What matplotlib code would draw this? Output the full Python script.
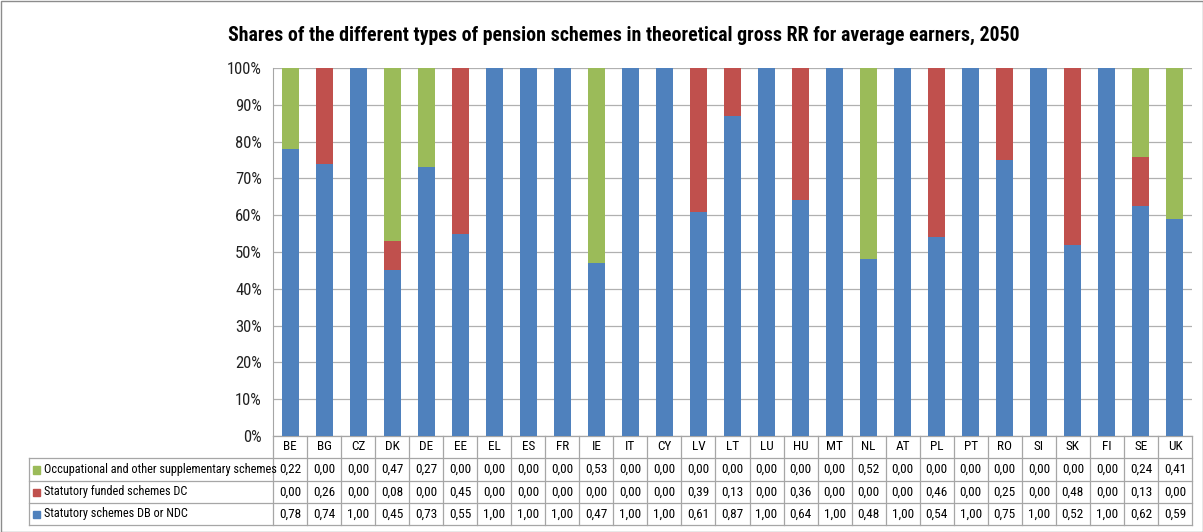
import matplotlib
matplotlib.use("Agg")
import matplotlib.pyplot as plt
from matplotlib.patches import Rectangle
from matplotlib import font_manager
import numpy as np

names = {f.name for f in font_manager.fontManager.ttflist}
cands = ['Roboto Condensed', 'Open Sans Condensed', 'Liberation Sans Narrow', 'Noto Sans Condensed',
         'DejaVu Sans Condensed', 'Roboto', 'Liberation Sans']
fam = [c for c in cands if c in names] + ['DejaVu Sans']
plt.rcParams['font.family'] = fam

countries = ["BE", "BG", "CZ", "DK", "DE", "EE", "EL", "ES", "FR", "IE", "IT", "CY", "LV",
             "LT", "LU", "HU", "MT", "NL", "AT", "PL", "PT", "RO", "SI", "SK", "FI", "SE", "UK"]
statutory_db = [0.78, 0.74, 1.00, 0.45, 0.73, 0.55, 1.00, 1.00, 1.00, 0.47, 1.00, 1.00, 0.61,
                0.87, 1.00, 0.64, 1.00, 0.48, 1.00, 0.54, 1.00, 0.75, 1.00, 0.52, 1.00, 0.62, 0.59]
funded_dc = [0.00, 0.26, 0.00, 0.08, 0.00, 0.45, 0.00, 0.00, 0.00, 0.00, 0.00, 0.00, 0.39,
             0.13, 0.00, 0.36, 0.00, 0.00, 0.00, 0.46, 0.00, 0.25, 0.00, 0.48, 0.00, 0.13, 0.00]
occupational = [0.22, 0.00, 0.00, 0.47, 0.27, 0.00, 0.00, 0.00, 0.00, 0.53, 0.00, 0.00, 0.00,
                0.00, 0.00, 0.00, 0.00, 0.52, 0.00, 0.00, 0.00, 0.00, 0.00, 0.00, 0.00, 0.24, 0.41]
series_names = ["Occupational and other supplementary schemes",
                "Statutory funded schemes DC",
                "Statutory schemes DB or NDC"]
title = "Shares of the different types of pension schemes in theoretical gross RR for average earners, 2050"

c_blue, c_red, c_green = "#4F81BD", "#C0504D", "#9BBB59"

W, H = 1203, 532
fig = plt.figure(figsize=(W / 100, H / 100), dpi=100)
ax_l, ax_r, ax_t, ax_b = 273, 1192, 68, 436
ax = fig.add_axes([ax_l / W, 1 - ax_b / H, (ax_r - ax_l) / W, (ax_b - ax_t) / H])

n = len(countries)
x = np.arange(n)
db = np.array(statutory_db)
dc = np.array(funded_dc)
oc = np.array(occupational)
tot = db + dc + oc
bw = 0.5
ax.bar(x, db / tot, bw, color=c_blue, zorder=3)
ax.bar(x, dc / tot, bw, bottom=db / tot, color=c_red, zorder=3)
ax.bar(x, oc / tot, bw, bottom=(db + dc) / tot, color=c_green, zorder=3)

ax.set_xlim(-0.5, n - 0.5)
ax.set_ylim(0, 1)
ax.set_yticks(np.arange(0, 1.01, 0.1))
ax.set_yticklabels([f"{int(round(v * 100))}%" for v in np.arange(0, 1.01, 0.1)], fontsize=12, color="#222222")
ax.yaxis.grid(True, color="#B0B0B0", linewidth=0.9, zorder=0)
ax.set_xticks([])
ax.tick_params(axis='y', length=0, pad=8)
for s in ["top", "right", "bottom"]:
    ax.spines[s].set_visible(False)
ax.spines["left"].set_color("#A6A6A6")

fig.suptitle(title, x=624 / W, y=1 - 35 / H, va="center", fontsize=14.3, fontweight="bold")

# data table drawn below the axes
tr = ax.get_xaxis_transform()
colw = (ax_r - ax_l) / n
left_x = -0.5 - (ax_l - 29) / colw
row_px = [436, 458, 481, 503, 525]
row_y = [1 - (r - ax_t) / (ax_b - ax_t) for r in row_px]
lc = "#A6A6A6"
lw = 0.9
ax.plot([-0.5, n - 0.5], [row_y[0]] * 2, transform=tr, color=lc, lw=lw, clip_on=False)
for yy in row_y[1:]:
    ax.plot([left_x, n - 0.5], [yy] * 2, transform=tr, color=lc, lw=lw, clip_on=False)
for i in range(n + 1):
    ax.plot([i - 0.5] * 2, [row_y[0], row_y[-1]], transform=tr, color=lc, lw=lw, clip_on=False)
ax.plot([left_x] * 2, [row_y[1], row_y[-1]], transform=tr, color=lc, lw=lw, clip_on=False)

tfs = 9.5
for i, c in enumerate(countries):
    ax.text(i, (row_y[0] + row_y[1]) / 2, c, transform=tr, ha="center", va="center", fontsize=tfs)

rows = [(occupational, c_green), (funded_dc, c_red), (statutory_db, c_blue)]
for r, ((vals, col), name) in enumerate(zip(rows, series_names)):
    ymid = (row_y[r + 1] + row_y[r + 2]) / 2
    for i, v in enumerate(vals):
        ax.text(i, ymid, f"{v:.2f}".replace(".", ","), transform=tr, ha="center", va="center", fontsize=tfs)
    ax.text(left_x + 15 / colw, ymid, name, transform=tr, ha="left", va="center", fontsize=8.8)
    ax.add_patch(Rectangle((left_x + 4 / colw, ymid - 0.011), 7 / colw, 0.02, transform=tr,
                           color=col, clip_on=False))

fig.patches.append(Rectangle((0.5 / W, 0.5 / H), 1 - 1 / W, 1 - 1 / H, transform=fig.transFigure,
                             fill=False, edgecolor="#8C8C8C", lw=1))

fig.savefig("out.png", dpi=100)
